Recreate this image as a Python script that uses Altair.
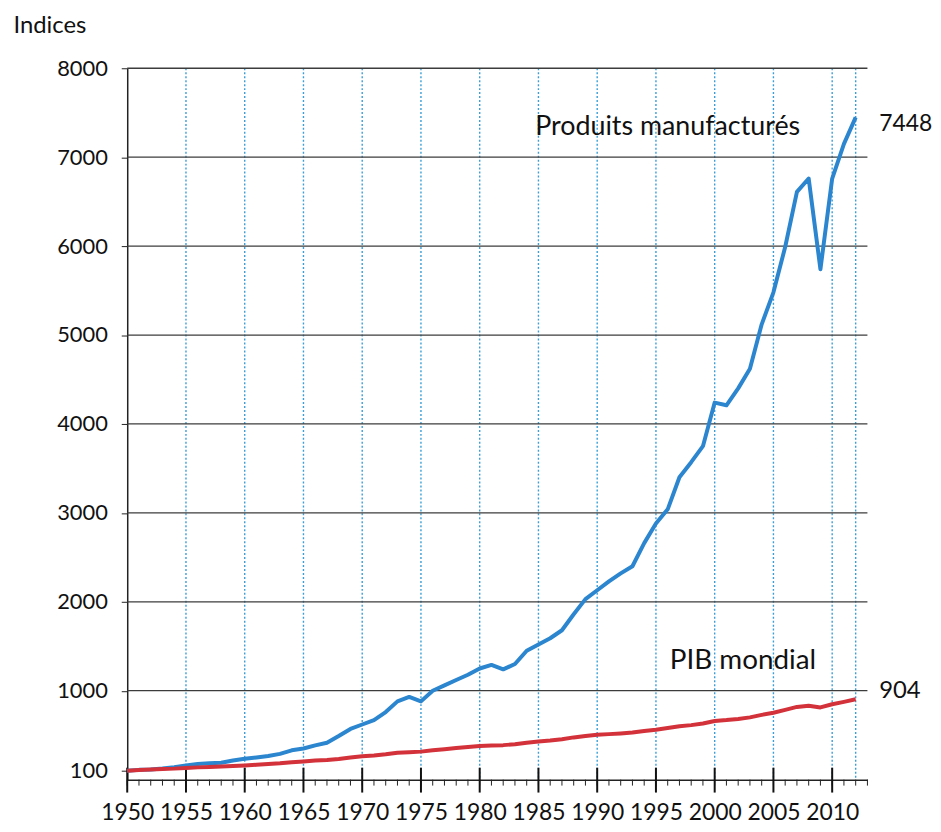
import altair as alt
import pandas as pd

# ---------------- data ----------------
years = list(range(1950, 2013))
manuf = [100, 110, 115, 125, 140, 160, 175, 185, 190, 215,
         235, 250, 265, 290, 330, 350, 385, 415, 490, 570,
         620, 670, 760, 880, 930, 880, 1000, 1060, 1120, 1180,
         1250, 1290, 1240, 1300, 1450, 1520, 1590, 1680, 1860, 2030,
         2130, 2230, 2320, 2400, 2660, 2880, 3040, 3400, 3570, 3750,
         4240, 4210, 4400, 4620, 5120, 5480, 5990, 6610, 6760, 5740,
         6760, 7150, 7448]
pib = [100, 108, 113, 119, 124, 132, 138, 143, 147, 153,
       160, 167, 176, 184, 195, 205, 215, 222, 233, 248,
       262, 272, 285, 302, 308, 315, 330, 342, 356, 368,
       378, 385, 388, 398, 415, 428, 440, 455, 475, 490,
       505, 512, 520, 530, 548, 562, 580, 600, 613, 632,
       660, 670, 683, 700, 728, 752, 785, 818, 830, 812,
       848, 875, 904]
series_names = ["Produits manufacturés", "PIB mondial"]
series_colors = ["#2b85cf", "#d3323b"]

y_ticks = [100, 1000, 2000, 3000, 4000, 5000, 6000, 7000, 8000]
grid_y = [1000, 2000, 3000, 4000, 5000, 6000, 7000, 8000]
x_ticks = list(range(1950, 2011, 5))
grid_x = [1955, 1960, 1965, 1970, 1975, 1980, 1985, 1990, 1995, 2000, 2005, 2010, 2012]
minor_x = list(range(1950, 2014))

center_text = ["Produits manufacturés", "PIB mondial"]
center_x = [1996.0, 2002.4]
center_y = [7337, 1329]
center_size = [27, 28]
end_text = ["7448", "904"]
end_x = [2014.0, 2014.0]
end_y = [7374, 994]
end_size = [23, 24]

# ---------------- tables ----------------
df = pd.concat([
    pd.DataFrame({"year": years, "value": manuf, "series": series_names[0]}),
    pd.DataFrame({"year": years, "value": pib, "series": series_names[1]}),
])
df_gy = pd.DataFrame({"value": grid_y})
df_gx = pd.DataFrame({"year": grid_x})
df_major = pd.DataFrame({"year": x_ticks})
df_minor = pd.DataFrame({"year": minor_x})
df_ct = pd.DataFrame({"t": center_text, "year": center_x, "value": center_y, "s": center_size})
df_et = pd.DataFrame({"t": end_text, "year": end_x, "value": end_y, "s": end_size})

W, H = 745, 716
FONT = "Lato"

xscale = alt.Scale(domain=[1950, 2013], nice=False, zero=False)
yscale = alt.Scale(domain=[0, 8000], nice=False)

xaxis = alt.Axis(values=x_ticks, format="d", ticks=False, grid=False,
                 domainColor="#222", domainWidth=1.5,
                 labelFont=FONT, labelFontSize=23, labelColor="#111",
                 labelPadding=22, labelFlush=False, title=None)
yaxis = alt.Axis(values=y_ticks, format="d", grid=False, tickSize=6, tickColor="#222",
                 domainColor="#222", domainWidth=1.5,
                 labelFont=FONT, labelFontSize=22, labelColor="#111",
                 labelPadding=14,
                 title="Indices", titleAngle=0, titleAlign="left",
                 titleBaseline="middle", titleX=-115, titleY=-43,
                 titleFont=FONT, titleFontSize=24, titleFontWeight="normal",
                 titleColor="#111")

X = alt.X("year:Q", scale=xscale, axis=xaxis)
Y = alt.Y("value:Q", scale=yscale, axis=yaxis)

vgrid = alt.Chart(df_gx).mark_rule(color="#3a9ed8", strokeWidth=1.4, strokeDash=[2, 2]).encode(x=X)
hgrid = alt.Chart(df_gy).mark_rule(color="#3c3c3c", strokeWidth=1.3).encode(y=Y)
minor = alt.Chart(df_minor).mark_rule(color="#222", strokeWidth=1).encode(
    x=X, y=alt.value(H), y2=alt.value(H + 6)
)
major = alt.Chart(df_major).mark_rule(color="#111", strokeWidth=2).encode(
    x=X, y=alt.value(H - 12), y2=alt.value(H + 13)
)

lines = alt.Chart(df).mark_line(strokeWidth=4, strokeJoin="round").encode(
    x=X, y=Y,
    color=alt.Color("series:N", scale=alt.Scale(domain=series_names, range=series_colors),
                    legend=None),
    detail="series:N",
)

ctext = alt.Chart(df_ct).mark_text(font=FONT, color="#111", align="center", baseline="middle").encode(
    x=X, y=Y, text="t:N",
    size=alt.Size("s:Q", scale=None, legend=None),
)
etext = alt.Chart(df_et).mark_text(font=FONT, color="#111", align="left", baseline="middle").encode(
    x=X, y=Y, text="t:N",
    size=alt.Size("s:Q", scale=None, legend=None),
)

chart = alt.layer(vgrid, hgrid, minor, major, lines, ctext, etext).properties(
    width=W, height=H,
    autosize=alt.AutoSizeParams(type="none"),
    padding={"left": 120, "top": 58, "right": 66, "bottom": 42},
    background="white",
).configure_view(stroke=None)

chart.save("out.html", embed_options={"renderer": "svg", "actions": False})
